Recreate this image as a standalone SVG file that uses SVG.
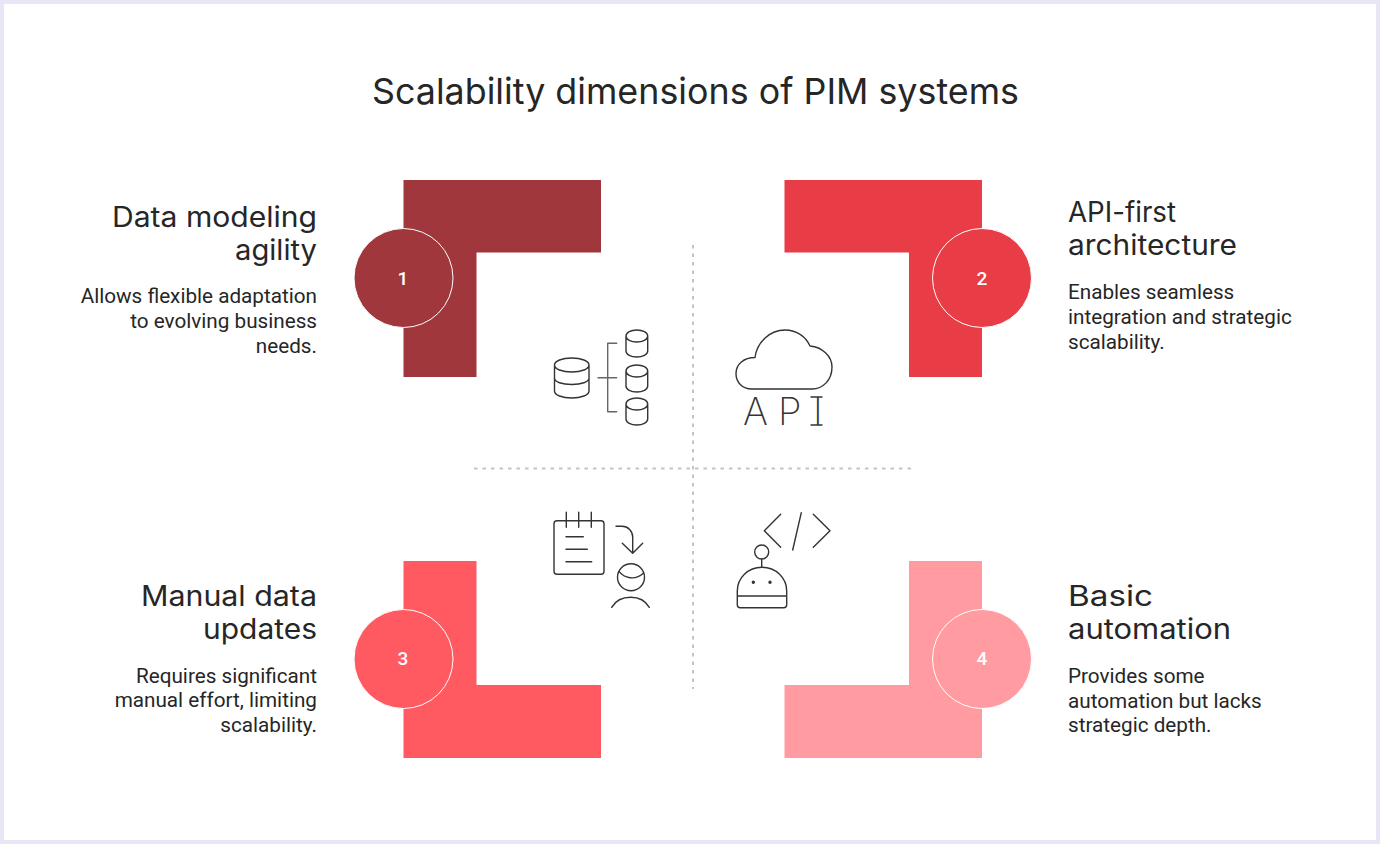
<svg xmlns="http://www.w3.org/2000/svg" width="1380" height="844" viewBox="0 0 1380 844">
<style>
.title{font-family:"Inter","Noto Sans",sans-serif;font-size:36px;fill:#262626}
.h{font-family:"Inter","Noto Sans",sans-serif;font-size:28px;fill:#262626}
.b{font-family:"Roboto","Liberation Sans",sans-serif;font-size:20.7px;fill:#262626}
.n{font-family:"Roboto","Liberation Sans",sans-serif;font-size:19px;font-weight:500;fill:#fff;text-anchor:middle}
.r{text-anchor:end}
.c{stroke:#fff;stroke-width:1}
.i{fill:none;stroke:#333;stroke-width:1.4;stroke-linecap:round;stroke-linejoin:round}
.d{fill:none;stroke:#c4c4c4;stroke-width:2;stroke-dasharray:3.5 5}
</style>
<rect width="1380" height="844" fill="#e6e6f4"/>
<rect x="4" y="4" width="1372" height="836" fill="#fff"/>
<text class="title" x="372" y="104" textLength="647" lengthAdjust="spacingAndGlyphs">Scalability dimensions of PIM systems</text>
<g id="connectors">
<path class="d" d="M693 245V689"/>
<path class="d" d="M474 468.5H912"/>
</g>
<g id="node1">
<path fill="#a0373c" d="M403.500 180H601V252.500H476.500V377H403.500Z"/>
<circle class="c" cx="403.500" cy="278" r="49.500" fill="#a0373c"/>
<text class="n" x="403" y="285">1</text>
<text class="h r" x="317" y="227" textLength="205" lengthAdjust="spacingAndGlyphs">Data modeling</text>
<text class="h r" x="317" y="260" textLength="82" lengthAdjust="spacingAndGlyphs">agility</text>
<text class="b r" x="317" y="303">Allows flexible adaptation</text>
<text class="b r" x="317" y="328">to evolving business</text>
<text class="b r" x="317" y="353">needs.</text>
<g class="i">
<path d="M554.500 365C554.500 361 562 358 571.700 358S589 361 589 365S581.400 372 571.700 372S554.500 369 554.500 365ZM554.500 365V391C554.500 395 562 398 571.700 398S589 395 589 391V365M554.500 378C554.500 382 562 384.500 571.700 384.500S589 382 589 378"/>
<path d="M626 336C626 332.500 631 330 636.800 330S647.700 332.500 647.700 336S642.600 342 636.800 342S626 339.500 626 336ZM626 336V351C626 354.500 631 357 636.800 357S647.700 354.500 647.700 351V336"/>
<path d="M626 371C626 367.500 631 365 636.800 365S647.700 367.500 647.700 371S642.600 377 636.800 377S626 374.500 626 371ZM626 371V386C626 389.500 631 392 636.800 392S647.700 389.500 647.700 386V371"/>
<path d="M626 404C626 400.500 631 398 636.800 398S647.700 400.500 647.700 404S642.600 410 636.800 410S626 407.500 626 404ZM626 404V419C626 422.500 631 425 636.800 425S647.700 422.500 647.700 419V404"/>
<path stroke="#666" d="M616.700 343.300H607.700V411.700H616.700M598 377.700H616.700"/>
</g>
</g>
<g id="node2">
<path fill="#e83c46" d="M784.500 180H982V377H909V252.500H784.500Z"/>
<circle class="c" cx="982" cy="278" r="49.500" fill="#e83c46"/>
<text class="n" x="982" y="285">2</text>
<text class="h" x="1068" y="222" textLength="108" lengthAdjust="spacingAndGlyphs">API-first</text>
<text class="h" x="1068" y="255" textLength="169" lengthAdjust="spacingAndGlyphs">architecture</text>
<text class="b" x="1068" y="299">Enables seamless</text>
<text class="b" x="1068" y="324">integration and strategic</text>
<text class="b" x="1068" y="349">scalability.</text>
<path class="i" d="M752 389C742 389 736 382 736 373.500C736 364 744 357.500 755 357.500C757 342 770 330 785 330C797 330 806 337 810 346C822 347 832 356 832 367C832 380 823 389 812 389Z"/>
<text x="743 778 813" y="425" opacity="0.99" style="font-family:'Inter','Noto Sans',sans-serif;font-size:38px;font-weight:200;fill:#333">API</text>
<path class="i" d="M811 397H822M811 425H822"/>
</g>
<g id="node3">
<path fill="#ff5a62" d="M403.500 561H476.500V685H601V758H403.500Z"/>
<circle class="c" cx="403.500" cy="659" r="49.500" fill="#ff5a62"/>
<text class="n" x="403" y="665">3</text>
<text class="h r" x="317" y="606" textLength="176" lengthAdjust="spacingAndGlyphs">Manual data</text>
<text class="h r" x="317" y="639" textLength="114" lengthAdjust="spacingAndGlyphs">updates</text>
<text class="b r" x="317" y="682.500">Requires significant</text>
<text class="b r" x="317" y="707">manual effort, limiting</text>
<text class="b r" x="317" y="732">scalability.</text>
<g class="i">
<rect x="554" y="520.700" width="50" height="53.600" rx="3"/>
<path d="M566.300 512.300V527.300M578.700 512.300V527.300M591.300 512.300V527.300M566 536.700H583.300M566 549.300H587.300M566 561.700H591.700"/>
<path d="M616 526.300H622C628 526.300 632.700 531 632.700 537V553.300M622.300 543.300L632.700 553.300L642.700 543.300"/>
<circle cx="631" cy="577.300" r="13.500"/>
<path d="M619.300 571.700C624 578 635 581 643.300 573.300M611.700 607.300C616 600 623 597.300 630.700 597.300S645 600 649.300 607.300"/>
</g>
</g>
<g id="node4">
<path fill="#ff9ba1" d="M909 561H982V758H784.500V685H909Z"/>
<circle class="c" cx="982" cy="659" r="49.500" fill="#ff9ba1"/>
<text class="n" x="982" y="665">4</text>
<text class="h" x="1068" y="606" textLength="85" lengthAdjust="spacingAndGlyphs">Basic</text>
<text class="h" x="1068" y="639" textLength="163" lengthAdjust="spacingAndGlyphs">automation</text>
<text class="b" x="1068" y="682.500">Provides some</text>
<text class="b" x="1068" y="707.500">automation but lacks</text>
<text class="b" x="1068" y="732">strategic depth.</text>
<g class="i">
<path d="M780.700 514.300L764.300 530.700L780.700 547.300M801.300 512.700L792.700 550M813.300 514.300L830 530.700L813.300 547.300"/>
<circle cx="761.700" cy="552" r="7"/>
<path d="M761.700 559V567.300"/>
<path d="M740.300 607.700H783.700Q786.700 607.700 786.700 604.700V591C786.700 578 776 567.300 762 567.300S737.300 578 737.300 591V604.700Q737.300 607.700 740.300 607.700ZM737.300 596H786.700"/>
<circle cx="753.300" cy="582.300" r="1" fill="#333"/>
<circle cx="770" cy="582.300" r="1" fill="#333"/>
</g>
</g>
</svg>
